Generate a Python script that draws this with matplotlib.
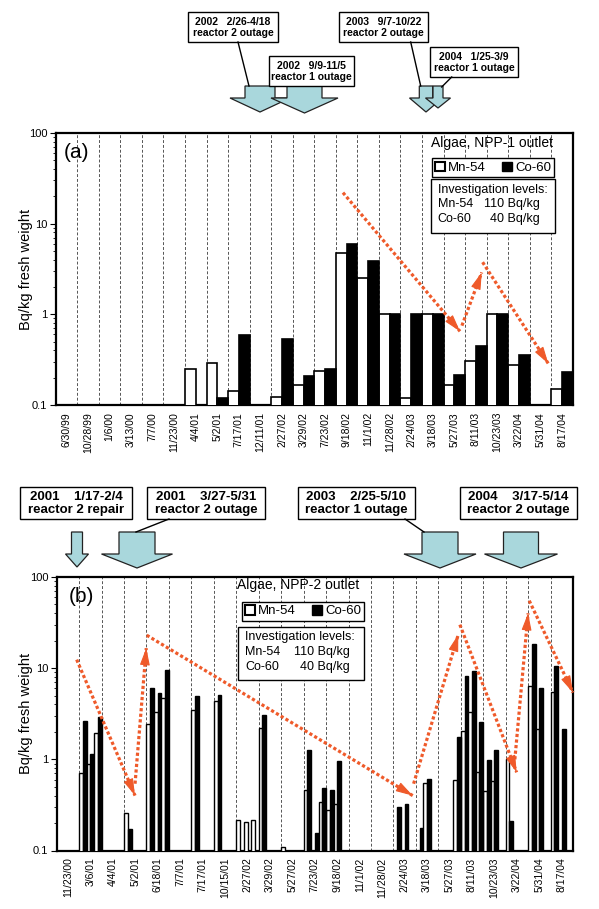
import numpy as np
import matplotlib
matplotlib.use('Agg')
import matplotlib.pyplot as plt
from matplotlib.patches import Rectangle, Polygon, Patch
from matplotlib.lines import Line2D
from matplotlib.ticker import FixedLocator, FuncFormatter, LogLocator

plt.rcParams['font.family'] = ['Liberation Sans', 'DejaVu Sans']

W, H = 599, 909
RED = '#ef5a2a'
BLUE = '#a9d7dc'
n = np.nan

# (a) algae, NPP-1 outlet: one Mn-54 / Co-60 pair per sampling date
dates_a = ['6/30/99', '10/28/99', '1/6/00', '3/13/00', '7/7/00', '11/23/00',
           '4/4/01', '5/2/01', '7/17/01', '12/11/01', '2/27/02', '3/29/02',
           '7/23/02', '9/18/02', '11/1/02', '11/28/02', '2/24/03', '3/18/03',
           '5/27/03', '8/11/03', '10/23/03', '3/22/04', '5/31/04', '8/17/04']
mn_a = [n, n, n, n, n, n, 0.25, 0.29, 0.142, n, 0.124, 0.168,
        0.235, 4.7, 2.5, 1.0, 0.12, 1.0, 0.167, 0.305, 1.02, 0.276, n, 0.149]
co_a = [n, n, n, n, n, n, n, 0.12, 0.59, n, 0.53, 0.21,
        0.25, 5.9, 3.9, 1.0, 1.0, 1.0, 0.215, 0.45, 1.0, 0.354, n, 0.23]

# (b) algae, NPP-2 outlet: up to three samples per date
dates_b = ['11/23/00', '3/6/01', '4/4/01', '5/2/01', '6/18/01', '7/7/01',
           '7/17/01', '10/15/01', '2/27/02', '3/29/02', '5/27/02', '7/23/02',
           '9/18/02', '11/1/02', '11/28/02', '2/24/03', '3/18/03', '5/27/03',
           '8/11/03', '10/23/03', '3/22/04', '5/31/04', '8/17/04']
mn_b = [(n, n, n), (0.71, 0.9, 1.95), (n, n, n), (0.26, n, n),
        (2.45, 3.3, 4.67), (n, n, n), (3.5, n, n), (4.4, n, n),
        (0.215, 0.205, 0.215), (2.2, n, n), (0.11, n, n), (0.46, n, 0.34),
        (0.28, 0.32, n), (n, n, n), (n, n, n), (n, n, n),
        (n, 0.55, n), (n, n, 0.59), (2.04, 3.3, 0.72), (0.45, 0.58, n),
        (1.0, n, n), (6.4, 2.15, n), (5.45, n, n)]
co_b = [(n, n, n), (2.66, 1.13, 2.9), (n, n, n), (0.17, n, n),
        (6.1, 5.4, 9.5), (n, n, n), (5.0, n, n), (5.1, n, n),
        (n, n, n), (3.1, n, n), (n, n, n), (1.27, 0.155, 0.49),
        (0.46, 0.97, n), (n, n, n), (n, n, n), (0.30, 0.32, n),
        (0.175, 0.61, n), (n, n, 1.76), (8.3, 9.25, 2.55), (0.99, 1.27, n),
        (0.21, n, n), (18.2, 6.1, n), (10.5, 2.15, n)]

# red trend arrows, (date position, Bq/kg) start -> end
trend_a = [((13.33, 22.0), (18.76, 0.65)),
           ((18.85, 0.75), (19.77, 2.9)),
           ((19.81, 3.76), (22.86, 0.286))]
trend_b = [((0.89, 12.4), (3.49, 0.40)),
           ((3.49, 0.54), (3.99, 16.6)),
           ((4.01, 23.0), (15.86, 0.40)),
           ((15.9, 0.54), (17.89, 23.4)),
           ((17.96, 30.0), (20.49, 0.72)),
           ((20.41, 1.0), (21.0, 40.0)),
           ((21.05, 55.0), (23.0, 5.4))]

outages_a = ['2002   2/26-4/18\nreactor 2 outage', '2002   9/9-11/5\nreactor 1 outage',
             '2003   9/7-10/22\nreactor 2 outage', '2004   1/25-3/9\nreactor 1 outage']
outages_b = ['2001    1/17-2/4\nreactor 2 repair', '2001    3/27-5/31\nreactor 2 outage',
             '2003    2/25-5/10\nreactor 1 outage', '2004    3/17-5/14\nreactor 2 outage']

fig = plt.figure(figsize=(W / 100, H / 100), dpi=100)


def px(x, y):
    # pixel from top-left -> figure fraction
    return x / W, 1 - y / H


def make_axes(l, t, r, b, dates):
    ax = fig.add_axes([l / W, 1 - b / H, (r - l) / W, (b - t) / H])
    ax.set_yscale('log')
    ax.set_xlim(0, len(dates))
    ax.set_ylim(0.1, 100)
    ax.yaxis.set_major_locator(FixedLocator([0.1, 1, 10, 100]))
    ax.yaxis.set_minor_locator(LogLocator(subs=np.arange(2, 10)))
    ax.yaxis.set_major_formatter(FuncFormatter(lambda v, p: f'{v:g}'))
    ax.set_xticks(np.arange(len(dates)) + 0.5)
    ax.set_xticklabels(dates, rotation=90, fontsize=7.5)
    ax.tick_params(axis='x', length=0, pad=5)
    ax.tick_params(axis='y', which='major', direction='out', length=4, width=0.8,
                   labelsize=8, pad=2)
    ax.tick_params(axis='y', which='minor', direction='out', length=2.5, width=0.6)
    for s in ax.spines.values():
        s.set_linewidth(1.6)
    for k in range(1, len(dates)):
        ax.axvline(k, color='#555555', lw=0.7, ls=(0, (3, 2)), zorder=1)
    ax.set_ylabel('Bq/kg fresh weight', fontsize=10.5)
    ax.yaxis.set_label_coords((33 - l) / (r - l), 0.5)
    return ax


def trend(ax, start, end):
    (x0, y0), (x1, y1) = start, end
    ax.plot([x0, x1], [y0, y1], color=RED, lw=2.3, ls=(0, (1, 0.75)),
            dash_capstyle='butt', zorder=6, clip_on=False)
    p0 = ax.transData.transform(start)
    p1 = ax.transData.transform(end)
    d = (p1 - p0) / np.hypot(*(p1 - p0))
    ax.annotate('', xy=end, xytext=(-d[0] * 11, -d[1] * 11), textcoords='offset points',
                arrowprops=dict(arrowstyle='-|>,head_length=0.75,head_width=0.22',
                                mutation_scale=14, color=RED, lw=0.8,
                                shrinkA=0, shrinkB=0),
                annotation_clip=False, zorder=7)


def block_arrow(cx, top, neck, tip, shaft, head):
    pts = [(cx - shaft / 2, top), (cx + shaft / 2, top), (cx + shaft / 2, neck),
           (cx + head / 2, neck), (cx, tip), (cx - head / 2, neck), (cx - shaft / 2, neck)]
    fig.add_artist(Polygon([px(*p) for p in pts], closed=True, transform=fig.transFigure,
                           fc=BLUE, ec='#222222', lw=0.9))


def connector(x0, y0, x1, y1):
    fig.add_artist(Line2D([x0 / W, x1 / W], [1 - y0 / H, 1 - y1 / H],
                          transform=fig.transFigure, color='black', lw=1.0))


def callout(x, y, w, h, text, size):
    fig.add_artist(Rectangle(px(x, y + h), w / W, h / H, transform=fig.transFigure,
                             fc='white', ec='black', lw=1.0))
    fig.text(*px(x + w / 2, y + h / 2 + 0.5), text, ha='center', va='center',
             fontsize=size, fontweight='bold', linespacing=1.15)


def legend_boxes(ax, title_xy, leg_xy, box, lines_y, left_x, right_x):
    fig.text(*px(*title_xy), 'Algae, ' + ax.get_label() + ' outlet', ha='center',
             va='center', fontsize=10)
    leg = ax.legend(handles=[Patch(fc='white', ec='black', lw=1.5, label='Mn-54'),
                             Patch(fc='black', ec='black', label='Co-60')],
                    loc='upper left', bbox_to_anchor=px(*leg_xy),
                    bbox_transform=fig.transFigure, ncol=2, fontsize=9.5,
                    frameon=True, fancybox=False, edgecolor='black', framealpha=1,
                    borderpad=0.25, borderaxespad=0, handlelength=0.75,
                    handleheight=0.75, handletextpad=0.2, columnspacing=1.3)
    leg.get_frame().set_linewidth(1.0)
    leg.set_zorder(10)
    bx, by, bw, bh = box
    fig.add_artist(Rectangle(px(bx, by + bh), bw / W, bh / H, transform=fig.transFigure,
                             fc='white', ec='black', lw=1.0))
    fig.text(*px(left_x, lines_y[0]), 'Investigation levels:', va='center', fontsize=9)
    fig.text(*px(left_x, lines_y[1]), 'Mn-54', va='center', fontsize=9)
    fig.text(*px(left_x, lines_y[2]), 'Co-60', va='center', fontsize=9)
    fig.text(*px(right_x, lines_y[1]), '110 Bq/kg', va='center', ha='right', fontsize=9)
    fig.text(*px(right_x, lines_y[2]), '40 Bq/kg', va='center', ha='right', fontsize=9)


# ---------------- panel (a) ----------------
ax_a = make_axes(55.7, 133, 572.9, 405, dates_a)
ax_a.set_label('NPP-1')
xa = np.arange(len(dates_a))
ax_a.bar(xa + 0.25, mn_a, width=0.5, fc='white', ec='black', lw=1.2, zorder=3)
ax_a.bar(xa + 0.75, co_a, width=0.5, fc='black', ec='black', lw=1.2, zorder=3)
for s, e in trend_a:
    trend(ax_a, s, e)
fig.text(*px(76.7, 153), '(a)', ha='center', va='center', fontsize=15)
legend_boxes(ax_a, (492.3, 143.3), (431.7, 158.3), (431, 179.3, 124, 54),
             (190, 204.3, 219.3), 437.7, 540)

connector(238, 42, 249, 86)
connector(410.7, 42, 420.7, 86)
connector(451.7, 77, 441.7, 87)
block_arrow(260, 86, 98, 112, 30, 60)
block_arrow(304.5, 86, 98, 113, 35, 67)
block_arrow(426, 86, 98, 112, 13.4, 33)
block_arrow(438, 86, 98, 108, 10, 25)
callout(188, 12, 90, 30, outages_a[0], 7.5)
callout(269, 56, 85, 30, outages_a[1], 7.5)
callout(339, 12, 89, 30, outages_a[2], 7.5)
callout(430, 47, 88, 30, outages_a[3], 7.5)

# ---------------- panel (b) ----------------
ax_b = make_axes(56.7, 577, 573, 850.5, dates_b)
ax_b.set_label('NPP-2')
xb = np.arange(len(dates_b))
mn_arr = np.array(mn_b)
co_arr = np.array(co_b)
for s in range(3):
    ax_b.bar(xb + s / 3 + 1 / 12, mn_arr[:, s], width=1 / 6, fc='white', ec='black',
             lw=1.0, zorder=3)
    ax_b.bar(xb + s / 3 + 3 / 12, co_arr[:, s], width=1 / 6, fc='black', ec='black',
             lw=1.0, zorder=3)
for s, e in trend_b:
    trend(ax_b, s, e)
fig.text(*px(81, 596), '(b)', ha='center', va='center', fontsize=15)
legend_boxes(ax_b, (298.5, 585), (241.7, 601.7), (238.3, 626.7, 125.7, 53.3),
             (636.7, 651.7, 666.7), 245, 350)

connector(169, 519, 136, 532)
connector(405, 519, 424, 532)
block_arrow(77, 532, 554, 567, 11, 23)
block_arrow(137, 532, 554, 568, 36, 71)
block_arrow(440, 532, 554, 568, 36, 72)
block_arrow(521, 532, 554, 568, 35, 73)
callout(20, 487, 112, 32, outages_b[0], 9.5)
callout(147, 487, 118, 32, outages_b[1], 9.5)
callout(298, 487, 117, 32, outages_b[2], 9.5)
callout(460, 487, 117, 32, outages_b[3], 9.5)

fig.savefig('out.png', dpi=100)
